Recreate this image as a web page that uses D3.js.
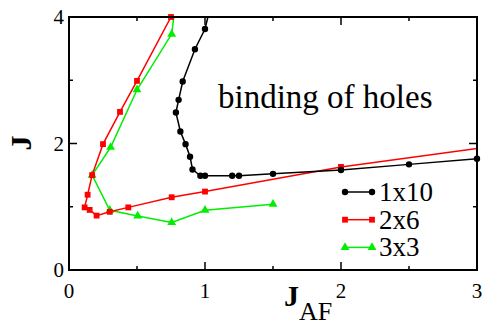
<!DOCTYPE html>
<html>
<head>
<meta charset="utf-8">
<script src="https://cdn.jsdelivr.net/npm/d3@7"></script>
<style>
  body { margin: 0; background: #fff; }
  svg { display: block; }
  svg text { font-family: "Liberation Serif", "Times New Roman", Times, "DejaVu Serif", serif; }
</style>
</head>
<body>
<div id="main"></div>
<script>
// chart values
var seriesNames = ["1x10", "2x6", "3x3"];
var seriesColors = ["#000000", "#ff0000", "#00ee00"];
var chainJaf = [1.05, 1.0, 0.926, 0.836, 0.806, 0.786, 0.819, 0.857, 0.89, 0.908, 0.966, 1.0, 1.2, 1.25, 1.5, 2.0, 2.5, 3.0];
var chainJ   = [4.25, 3.81, 3.49, 2.98, 2.69, 2.49, 2.19, 1.99, 1.79, 1.59, 1.49, 1.49, 1.49, 1.49, 1.52, 1.58, 1.67, 1.76];
var ladderJaf = [0.75, 0.5, 0.375, 0.25, 0.17, 0.137, 0.115, 0.152, 0.203, 0.3, 0.436, 0.755, 1.0, 2.0, 4.0];
var ladderJ   = [4.0, 2.99, 2.5, 1.99, 1.5, 1.19, 0.99, 0.95, 0.86, 0.92, 0.99, 1.15, 1.24, 1.63, 2.21];
var squareJaf = [0.8, 0.755, 0.5, 0.306, 0.17, 0.3, 0.505, 0.755, 1.0, 1.5];
var squareJ   = [4.5, 3.73, 2.85, 1.94, 1.5, 0.945, 0.855, 0.75, 0.945, 1.04];
var xMajorTicks = [0, 1, 2, 3];
var xMinorTicks = [0.5, 1.5, 2.5];
var yMajorTicks = [0, 2, 4];
var yMinorTicks = [1, 3];
var annotation = "binding of holes";

var ctx = {
    w: 483,
    h: 326,
    left: 69, right: 477, top: 17, bottom: 270,
    MAJOR: 8,
    MINOR: 4
};

var initScales = function() {
    ctx.xScale = d3.scaleLinear().domain([0, 3]).range([ctx.left, ctx.right]);
    ctx.yScale = d3.scaleLinear().domain([0, 4]).range([ctx.bottom, ctx.top]);
    ctx.circleGen = d3.symbol().type(d3.symbolCircle).size(32);
    ctx.squareGen = d3.symbol().type(d3.symbolSquare).size(34);
    ctx.triangleGen = d3.symbol().type(d3.symbolTriangle).size(34);
};

var drawAxes = function(svg) {
    var g = svg.append("g").attr("id", "axesG");
    // inward ticks on all four sides
    var xAll = xMajorTicks.map(function(v){ return {v: v, len: ctx.MAJOR}; })
        .concat(xMinorTicks.map(function(v){ return {v: v, len: ctx.MINOR}; }));
    var yAll = yMajorTicks.map(function(v){ return {v: v, len: ctx.MAJOR}; })
        .concat(yMinorTicks.map(function(v){ return {v: v, len: ctx.MINOR}; }));
    g.selectAll("line.xb").data(xAll).enter().append("line")
        .attr("x1", function(d){ return ctx.xScale(d.v); })
        .attr("x2", function(d){ return ctx.xScale(d.v); })
        .attr("y1", ctx.bottom)
        .attr("y2", function(d){ return ctx.bottom - d.len; });
    g.selectAll("line.xt").data(xAll).enter().append("line")
        .attr("x1", function(d){ return ctx.xScale(d.v); })
        .attr("x2", function(d){ return ctx.xScale(d.v); })
        .attr("y1", ctx.top)
        .attr("y2", function(d){ return ctx.top + d.len; });
    g.selectAll("line.yl").data(yAll).enter().append("line")
        .attr("y1", function(d){ return ctx.yScale(d.v); })
        .attr("y2", function(d){ return ctx.yScale(d.v); })
        .attr("x1", ctx.left)
        .attr("x2", function(d){ return ctx.left + d.len; });
    g.selectAll("line.yr").data(yAll).enter().append("line")
        .attr("y1", function(d){ return ctx.yScale(d.v); })
        .attr("y2", function(d){ return ctx.yScale(d.v); })
        .attr("x1", ctx.right)
        .attr("x2", function(d){ return ctx.right - d.len; });
    g.selectAll("line").style("stroke", "#000").style("stroke-width", 1.5);
    // frame
    g.append("rect")
        .attr("x", ctx.left).attr("y", ctx.top)
        .attr("width", ctx.right - ctx.left)
        .attr("height", ctx.bottom - ctx.top)
        .style("fill", "none")
        .style("stroke", "#000")
        .style("stroke-width", 2);
    // tick labels
    g.selectAll("text.xl").data(xMajorTicks).enter().append("text")
        .attr("x", function(d){ return ctx.xScale(d); })
        .attr("y", ctx.bottom + 28)
        .style("text-anchor", "middle")
        .text(function(d){ return d; });
    g.selectAll("text.yl").data(yMajorTicks).enter().append("text")
        .attr("x", ctx.left - 5)
        .attr("y", function(d){ return ctx.yScale(d) + 7; })
        .style("text-anchor", "end")
        .text(function(d){ return d; });
    g.selectAll("text").style("font-size", "21px");
    // y-axis label
    g.append("text")
        .attr("transform", "translate(31,143) rotate(-90)")
        .style("text-anchor", "middle")
        .style("font-weight", "bold")
        .style("font-size", "30px")
        .text("J");
    // x-axis label with subscript
    var xl = g.append("text")
        .attr("x", 284)
        .attr("y", 306)
        .style("font-size", "30px");
    xl.append("tspan").style("font-weight", "bold").text("J");
    xl.append("tspan").attr("dy", 14).style("font-size", "26px").text("AF");
};

var drawSeries = function(svg) {
    var all = [
        {name: seriesNames[0], color: seriesColors[0], gen: ctx.circleGen, xs: chainJaf, ys: chainJ},
        {name: seriesNames[1], color: seriesColors[1], gen: ctx.squareGen, xs: ladderJaf, ys: ladderJ},
        {name: seriesNames[2], color: seriesColors[2], gen: ctx.triangleGen, xs: squareJaf, ys: squareJ}
    ];
    svg.append("clipPath").attr("id", "plotClip")
        .append("rect")
        .attr("x", ctx.left).attr("y", ctx.top)
        .attr("width", ctx.right - ctx.left)
        .attr("height", ctx.bottom - ctx.top);
    var line = d3.line()
        .x(function(d){ return ctx.xScale(d[0]); })
        .y(function(d){ return ctx.yScale(d[1]); });
    // draw series back to front: 3x3, 2x6, 1x10
    all.slice().reverse().forEach(function(s) {
        var pts = s.xs.map(function(x, i){ return [x, s.ys[i]]; });
        svg.append("path")
            .attr("d", line(pts))
            .attr("clip-path", "url(#plotClip)")
            .style("fill", "none")
            .style("stroke", s.color)
            .style("stroke-width", 1.5);
        svg.append("g").selectAll("path")
            .data(pts.filter(function(p){ return p[0] <= 3.001 && p[1] <= 4.001; }))
            .enter().append("path")
            .attr("d", s.gen())
            .attr("transform", function(p){ return "translate(" + ctx.xScale(p[0]) + "," + ctx.yScale(p[1]) + ")"; })
            .style("fill", s.color);
    });
    // legend
    var lg = svg.append("g").attr("id", "legendG");
    all.forEach(function(s, i) {
        var y = 192 + i * 27.7;
        lg.append("line")
            .attr("x1", 345).attr("x2", 372)
            .attr("y1", y).attr("y2", y)
            .style("stroke", s.color)
            .style("stroke-width", 1.5);
        [345, 372].forEach(function(x) {
            lg.append("path")
                .attr("d", s.gen())
                .attr("transform", "translate(" + x + "," + y + ")")
                .style("fill", s.color);
        });
        lg.append("text")
            .attr("x", 379)
            .attr("y", y + 9)
            .style("font-size", "27px")
            .text(s.name);
    });
    // annotation
    svg.append("text")
        .attr("x", 218)
        .attr("y", 108)
        .style("font-size", "33px")
        .text(annotation);
};

var createViz = function() {
    var svgEl = d3.select("#main").append("svg")
        .attr("width", ctx.w)
        .attr("height", ctx.h);
    initScales();
    drawSeries(svgEl);
    drawAxes(svgEl);
};

createViz();
</script>
</body>
</html>
